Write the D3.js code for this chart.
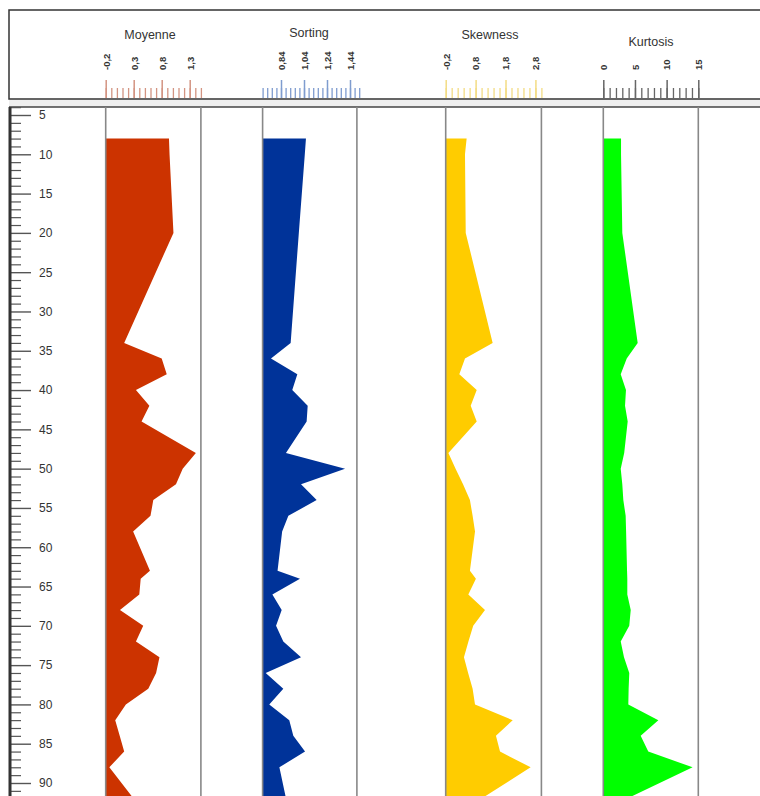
<!DOCTYPE html>
<html>
<head>
<meta charset="utf-8">
<script src="https://cdn.jsdelivr.net/npm/d3@7"></script>
<style>
  body { margin: 0; background: #fff; }
  text { font-family: "Liberation Sans", Arial, sans-serif; }
</style>
</head>
<body>
<svg id="chart" width="760" height="796"></svg>
<script>
// sample depths (shared by all four curves)
const depths = [8, 10, 20, 34, 36, 38, 40, 42, 44, 48, 50, 52, 54, 56, 58, 63, 64, 66, 68, 70, 72, 74, 76, 78, 80, 82, 84, 86, 88, 92];

const moyenne = [0.93, 0.94, 1.01, 0.13, 0.80, 0.89, 0.34, 0.58, 0.44, 1.41, 1.175, 1.055, 0.65, 0.60, 0.29, 0.59, 0.425, 0.40, 0.055, 0.47, 0.34, 0.76, 0.70, 0.56, 0.16, -0.03, 0.05, 0.13, -0.135, 0.30];
const sorting = [1.057, 1.047, 0.995, 0.924, 0.753, 0.982, 0.938, 1.072, 1.063, 0.883, 1.397, 1.014, 1.15, 0.904, 0.85, 0.81, 1.005, 0.765, 0.846, 0.797, 0.86, 1.014, 0.707, 0.86, 0.738, 0.912, 0.947, 1.049, 0.826, 0.884];
const skewness = [0.50, 0.445, 0.47, 1.37, 0.445, 0.255, 0.837, 0.636, 0.837, -0.11, 0.13, 0.38, 0.61, 0.70, 0.78, 0.61, 0.81, 0.556, 1.114, 0.72, 0.56, 0.41, 0.55, 0.70, 0.78, 2.04, 1.48, 1.616, 2.64, 0.99];
const kurtosis = [2.8, 2.8, 3.0, 5.43, 3.7, 2.75, 3.58, 3.43, 3.85, 3.3, 2.75, 3.0, 3.16, 3.53, 3.6, 3.75, 3.79, 3.79, 4.33, 4.1, 2.75, 3.27, 4.1, 4.0, 3.95, 8.69, 5.9, 7.1, 14.1, 3.7];

const names = ['Moyenne', 'Sorting', 'Skewness', 'Kurtosis'];
const majorTicks = [
  [-0.2, 0.3, 0.8, 1.3],
  [0.84, 1.04, 1.24, 1.44],
  [-0.2, 0.8, 1.8, 2.8],
  [0, 5, 10, 15]
];
const tickLabels = [
  ['-0,2', '0,3', '0,8', '1,3'],
  ['0,84', '1,04', '1,24', '1,44'],
  ['-0,2', '0,8', '1,8', '2,8'],
  ['0', '5', '10', '15']
];

// layout / style
const panels = [
  { values: moyenne,  domain: [-0.2, 1.5],  range: [105.7, 200.9], step: 0.1,  fill: '#cc3300', tick: '#d39482', titleX: 150, titleY: 39 },
  { values: sorting,  domain: [0.68, 1.50], range: [262.6, 356.9], step: 0.04, fill: '#003399', tick: '#7f9ccf', titleX: 309, titleY: 37 },
  { values: skewness, domain: [-0.2, 3.0],  range: [445.7, 541.4], step: 0.2,  fill: '#ffcc00', tick: '#f3dc84', titleX: 490, titleY: 39 },
  { values: kurtosis, domain: [0, 15],      range: [603.3, 698.3], step: 1,    fill: '#00ff00', tick: '#666666', titleX: 651, titleY: 46 }
];

const svg = d3.select('#chart');
const y = d3.scaleLinear().domain([5, 90]).range([115, 783]);
const headerBottom = 99, bodyTop = 107, bottom = 810;

// header frame + separator band
svg.append('rect').attr('x', 9).attr('y', 10).attr('width', 800).attr('height', headerBottom - 10)
  .attr('fill', '#fff').attr('stroke', '#333').attr('stroke-width', 1.5);
svg.append('rect').attr('x', 9).attr('y', headerBottom + 1).attr('width', 800).attr('height', bodyTop - headerBottom - 1)
  .attr('fill', '#efefef');
svg.append('line').attr('x1', 9).attr('x2', 760).attr('y1', bodyTop).attr('y2', bodyTop)
  .attr('stroke', '#444').attr('stroke-width', 1.5);

panels.forEach((p, i) => {
  const x = d3.scaleLinear().domain(p.domain).range(p.range);
  const data = depths.map((d, k) => ({ depth: d, value: p.values[k] }));

  // filled curve
  const area = d3.area()
    .x0(x(p.domain[0]))
    .x1(d => x(d.value))
    .y(d => y(d.depth));
  svg.append('path').datum(data).attr('d', area).attr('fill', p.fill);

  // panel frame
  [p.range[0], p.range[1]].forEach(px => {
    svg.append('line').attr('x1', px).attr('x2', px).attr('y1', bodyTop).attr('y2', bottom)
      .attr('stroke', '#888').attr('stroke-width', 1.6);
  });

  // minor ticks, up to the end of the scale
  const n = Math.round((p.domain[1] - p.domain[0]) / p.step);
  const minor = d3.range(n + 1).map(k => +(p.domain[0] + k * p.step).toFixed(3));
  const minorAxis = d3.axisTop(x).tickValues(minor).tickSize(10).tickFormat('');
  const gm = svg.append('g').attr('transform', `translate(0,${headerBottom - 1})`).call(minorAxis);
  gm.select('.domain').remove();
  gm.selectAll('line').attr('stroke', p.tick).attr('stroke-width', 1.3);

  // major ticks + rotated labels
  const majorAxis = d3.axisTop(x).tickValues(majorTicks[i]).tickSize(18)
    .tickFormat((d, k) => tickLabels[i][k]);
  const g = svg.append('g').attr('transform', `translate(0,${headerBottom - 1})`).call(majorAxis);
  g.select('.domain').remove();
  g.selectAll('line').attr('stroke', p.tick).attr('stroke-width', 1.5);
  g.selectAll('text')
    .attr('transform', 'rotate(-90)')
    .attr('x', 28).attr('y', 0).attr('dy', '0.35em')
    .attr('text-anchor', 'start')
    .attr('fill', '#333').style('font-size', '9.5px').style('font-weight', 'bold');

  // title
  svg.append('text').attr('x', p.titleX).attr('y', p.titleY)
    .attr('text-anchor', 'middle').attr('fill', '#333').style('font-size', '12.5px')
    .text(names[i]);
});

// depth axis
const allTicks = d3.range(4, 92);
const minorDepth = d3.axisRight(y).tickValues(allTicks.filter(d => d % 5)).tickSize(11).tickFormat('');
const gd1 = svg.append('g').attr('transform', 'translate(10,0)').call(minorDepth);
gd1.select('.domain').remove();
gd1.selectAll('line').attr('stroke', '#555').attr('stroke-width', 1.2);

const majorDepth = d3.axisRight(y).tickValues(allTicks.filter(d => d % 5 === 0)).tickSize(21).tickPadding(8);
const gd2 = svg.append('g').attr('transform', 'translate(10,0)').call(majorDepth);
gd2.select('.domain').remove();
gd2.selectAll('line').attr('stroke', '#555').attr('stroke-width', 1.4);
gd2.selectAll('text').attr('fill', '#333').style('font-size', '12px');

svg.append('line').attr('x1', 10).attr('x2', 10).attr('y1', bodyTop).attr('y2', bottom)
  .attr('stroke', '#333').attr('stroke-width', 3);
</script>
</body>
</html>
